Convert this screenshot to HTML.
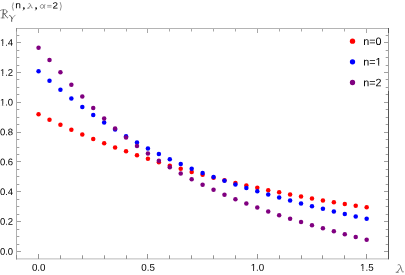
<!DOCTYPE html>
<html><head><meta charset="utf-8"><title>plot</title>
<style>html,body{margin:0;padding:0;background:#fff;}body{width:405px;height:275px;overflow:hidden;}svg{display:block;will-change:transform;opacity:0.999;}text{font-family:"Liberation Sans",sans-serif;text-rendering:geometricPrecision;}</style></head><body>
<svg width="405" height="275" viewBox="0 0 405 275">
<rect width="405" height="275" fill="#fff"/>
<g fill="none" stroke-width="1">
<path stroke="#b0b0b0" d="M16.5 28V259.5"/>
<path stroke="#555" d="M388.5 28V33M388.5 91V259.4"/><path stroke="#a0a0a0" d="M388.5 33V91"/>
<path stroke="#b4b4b4" d="M16 28.5H388"/>
<path stroke="#d4d4d4" d="M16 258.5H388"/><path stroke="#e4e4e4" d="M16 259.5H388"/>
<path stroke="#949494" d="M38.5 259V254M60.5 259V255.3M82.5 259V255.3M104.5 259V255.3M126.5 259V255.3M147.5 259V254M169.5 259V255.3M191.5 259V255.3M213.5 259V255.3M235.5 259V255.3M257.5 259V254M279.5 259V255.3M301.5 259V255.3M322.5 259V255.3M344.5 259V255.3M366.5 259V254"/>
<path stroke="#a8a8a8" d="M38.5 29V33M60.5 29V31.5M82.5 29V31.5M104.5 29V31.5M126.5 29V31.5M147.5 29V33M169.5 29V31.5M191.5 29V31.5M213.5 29V31.5M235.5 29V31.5M257.5 29V33M279.5 29V31.5M301.5 29V31.5M322.5 29V31.5M344.5 29V31.5M366.5 29V33"/>
<path stroke="#a0a0a0" d="M17 251.5H21M388 251.5H384M17 244.5H19.3M388 244.5H385.7M17 236.5H19.3M388 236.5H385.7M17 229.5H19.3M388 229.5H385.7M17 221.5H21M388 221.5H384M17 214.5H19.3M388 214.5H385.7M17 206.5H19.3M388 206.5H385.7M17 199.5H19.3M388 199.5H385.7M17 191.5H21M388 191.5H384M17 184.5H19.3M388 184.5H385.7M17 176.5H19.3M388 176.5H385.7M17 169.5H19.3M388 169.5H385.7M17 161.5H21M388 161.5H384M17 154.5H19.3M388 154.5H385.7M17 147.5H19.3M388 147.5H385.7M17 139.5H19.3M388 139.5H385.7M17 132.5H21M388 132.5H384M17 124.5H19.3M388 124.5H385.7M17 117.5H19.3M388 117.5H385.7M17 109.5H19.3M388 109.5H385.7M17 102.5H21M388 102.5H384M17 94.5H19.3M388 94.5H385.7M17 87.5H19.3M388 87.5H385.7M17 79.5H19.3M388 79.5H385.7M17 72.5H21M388 72.5H384M17 65.5H19.3M388 65.5H385.7M17 57.5H19.3M388 57.5H385.7M17 50.5H19.3M388 50.5H385.7M17 42.5H21M388 42.5H384M17 35.5H19.3M388 35.5H385.7"/>
<path stroke="#8c8c8c" d="M16.5 255V259.5M16.5 28V31.5"/>
</g>
<g font-size="9.5" fill="#000">
<text x="38.70" y="270.7" font-size="9.8" text-anchor="middle" transform="rotate(0.05 38.70 270.7)">0.0</text>
<text x="148.07" y="270.7" font-size="9.8" text-anchor="middle" transform="rotate(0.05 148.07 270.7)">0.5</text>
<text x="257.44" y="270.7" font-size="9.8" text-anchor="middle" transform="rotate(0.05 257.44 270.7)">1.0</text>
<rect x="250.77" y="269.12" width="2.22" height="1.98" fill="#fff"/><rect x="254.06" y="269.12" width="2.14" height="1.98" fill="#fff"/>
<text x="366.81" y="270.7" font-size="9.8" text-anchor="middle" transform="rotate(0.05 366.81 270.7)">1.5</text>
<rect x="360.14" y="269.12" width="2.22" height="1.98" fill="#fff"/><rect x="363.43" y="269.12" width="2.14" height="1.98" fill="#fff"/>
<text x="13.1" y="254.70" text-anchor="end" transform="rotate(0.05 13.1 254.70)">0.0</text>
<text x="13.1" y="224.86" text-anchor="end" transform="rotate(0.05 13.1 224.86)">0.2</text>
<text x="13.1" y="195.02" text-anchor="end" transform="rotate(0.05 13.1 195.02)">0.4</text>
<text x="13.1" y="165.18" text-anchor="end" transform="rotate(0.05 13.1 165.18)">0.6</text>
<text x="13.1" y="135.34" text-anchor="end" transform="rotate(0.05 13.1 135.34)">0.8</text>
<text x="13.1" y="105.50" text-anchor="end" transform="rotate(0.05 13.1 105.50)">1.0</text>
<rect x="0.02" y="103.94" width="2.17" height="1.96" fill="#fff"/><rect x="3.22" y="103.94" width="2.09" height="1.96" fill="#fff"/>
<text x="13.1" y="75.66" text-anchor="end" transform="rotate(0.05 13.1 75.66)">1.2</text>
<rect x="0.02" y="74.10" width="2.17" height="1.96" fill="#fff"/><rect x="3.22" y="74.10" width="2.09" height="1.96" fill="#fff"/>
<text x="13.1" y="45.82" text-anchor="end" transform="rotate(0.05 13.1 45.82)">1.4</text>
<rect x="0.02" y="44.26" width="2.17" height="1.96" fill="#fff"/><rect x="3.22" y="44.26" width="2.09" height="1.96" fill="#fff"/>
</g>
<g fill="#ff0000">
<circle cx="38.55" cy="114.33" r="2.25"/>
<circle cx="49.49" cy="119.69" r="2.25"/>
<circle cx="60.42" cy="124.81" r="2.25"/>
<circle cx="71.36" cy="129.73" r="2.25"/>
<circle cx="82.30" cy="134.44" r="2.25"/>
<circle cx="93.23" cy="138.95" r="2.25"/>
<circle cx="104.17" cy="143.27" r="2.25"/>
<circle cx="115.11" cy="147.41" r="2.25"/>
<circle cx="126.05" cy="151.37" r="2.25"/>
<circle cx="136.98" cy="155.17" r="2.25"/>
<circle cx="147.92" cy="158.81" r="2.25"/>
<circle cx="158.86" cy="162.30" r="2.25"/>
<circle cx="169.79" cy="165.64" r="2.25"/>
<circle cx="180.73" cy="168.84" r="2.25"/>
<circle cx="191.67" cy="171.91" r="2.25"/>
<circle cx="202.60" cy="174.85" r="2.25"/>
<circle cx="213.54" cy="177.67" r="2.25"/>
<circle cx="224.48" cy="180.37" r="2.25"/>
<circle cx="235.42" cy="182.97" r="2.25"/>
<circle cx="246.35" cy="185.46" r="2.25"/>
<circle cx="257.29" cy="187.85" r="2.25"/>
<circle cx="268.23" cy="190.15" r="2.25"/>
<circle cx="279.16" cy="192.36" r="2.25"/>
<circle cx="290.10" cy="194.48" r="2.25"/>
<circle cx="301.04" cy="196.53" r="2.25"/>
<circle cx="311.98" cy="198.49" r="2.25"/>
<circle cx="322.91" cy="200.39" r="2.25"/>
<circle cx="333.85" cy="202.21" r="2.25"/>
<circle cx="344.79" cy="203.97" r="2.25"/>
<circle cx="355.72" cy="205.67" r="2.25"/>
<circle cx="366.66" cy="207.31" r="2.25"/>
</g>
<g fill="#0000ff">
<circle cx="38.55" cy="71.29" r="2.25"/>
<circle cx="49.49" cy="80.73" r="2.25"/>
<circle cx="60.42" cy="89.85" r="2.25"/>
<circle cx="71.36" cy="98.60" r="2.25"/>
<circle cx="82.30" cy="106.97" r="2.25"/>
<circle cx="93.23" cy="114.93" r="2.25"/>
<circle cx="104.17" cy="122.47" r="2.25"/>
<circle cx="115.11" cy="129.59" r="2.25"/>
<circle cx="126.05" cy="136.30" r="2.25"/>
<circle cx="136.98" cy="142.60" r="2.25"/>
<circle cx="147.92" cy="148.51" r="2.25"/>
<circle cx="158.86" cy="154.05" r="2.25"/>
<circle cx="169.79" cy="159.25" r="2.25"/>
<circle cx="180.73" cy="164.11" r="2.25"/>
<circle cx="191.67" cy="168.68" r="2.25"/>
<circle cx="202.60" cy="172.97" r="2.25"/>
<circle cx="213.54" cy="177.01" r="2.25"/>
<circle cx="224.48" cy="180.84" r="2.25"/>
<circle cx="235.42" cy="184.47" r="2.25"/>
<circle cx="246.35" cy="187.94" r="2.25"/>
<circle cx="257.29" cy="191.26" r="2.25"/>
<circle cx="268.23" cy="194.45" r="2.25"/>
<circle cx="279.16" cy="197.53" r="2.25"/>
<circle cx="290.10" cy="200.50" r="2.25"/>
<circle cx="301.04" cy="203.38" r="2.25"/>
<circle cx="311.98" cy="206.17" r="2.25"/>
<circle cx="322.91" cy="208.87" r="2.25"/>
<circle cx="333.85" cy="211.49" r="2.25"/>
<circle cx="344.79" cy="214.03" r="2.25"/>
<circle cx="355.72" cy="216.47" r="2.25"/>
<circle cx="366.66" cy="218.81" r="2.25"/>
</g>
<g fill="#800080">
<circle cx="38.55" cy="47.83" r="2.25"/>
<circle cx="49.49" cy="59.96" r="2.25"/>
<circle cx="60.42" cy="72.34" r="2.25"/>
<circle cx="71.36" cy="84.64" r="2.25"/>
<circle cx="82.30" cy="96.57" r="2.25"/>
<circle cx="93.23" cy="107.94" r="2.25"/>
<circle cx="104.17" cy="118.60" r="2.25"/>
<circle cx="115.11" cy="128.47" r="2.25"/>
<circle cx="126.05" cy="137.56" r="2.25"/>
<circle cx="136.98" cy="145.91" r="2.25"/>
<circle cx="147.92" cy="153.60" r="2.25"/>
<circle cx="158.86" cy="160.73" r="2.25"/>
<circle cx="169.79" cy="167.34" r="2.25"/>
<circle cx="180.73" cy="173.52" r="2.25"/>
<circle cx="191.67" cy="179.30" r="2.25"/>
<circle cx="202.60" cy="184.72" r="2.25"/>
<circle cx="213.54" cy="189.83" r="2.25"/>
<circle cx="224.48" cy="194.64" r="2.25"/>
<circle cx="235.42" cy="199.19" r="2.25"/>
<circle cx="246.35" cy="203.49" r="2.25"/>
<circle cx="257.29" cy="207.57" r="2.25"/>
<circle cx="268.23" cy="211.44" r="2.25"/>
<circle cx="279.16" cy="215.14" r="2.25"/>
<circle cx="290.10" cy="218.66" r="2.25"/>
<circle cx="301.04" cy="222.03" r="2.25"/>
<circle cx="311.98" cy="225.26" r="2.25"/>
<circle cx="322.91" cy="228.36" r="2.25"/>
<circle cx="333.85" cy="231.35" r="2.25"/>
<circle cx="344.79" cy="234.22" r="2.25"/>
<circle cx="355.72" cy="236.99" r="2.25"/>
<circle cx="366.66" cy="239.66" r="2.25"/>
</g>
<circle cx="352.5" cy="41.2" r="2.65" fill="#ff0000"/>
<text x="363.2" y="45.00" font-size="10.8" fill="#000" transform="rotate(0.05 363.2 45.00)">n=0</text>
<circle cx="352.5" cy="61.8" r="2.65" fill="#0000ff"/>
<text x="363.2" y="65.60" font-size="10.8" fill="#000" transform="rotate(0.05 363.2 65.60)">n=1</text>
<rect x="375.74" y="63.94" width="2.39" height="2.06" fill="#fff"/><rect x="379.28" y="63.94" width="2.31" height="2.06" fill="#fff"/>
<circle cx="352.5" cy="82.5" r="2.65" fill="#800080"/>
<text x="363.2" y="86.30" font-size="10.8" fill="#000" transform="rotate(0.05 363.2 86.30)">n=2</text>
<g aria-label="lambda">
<path d="M0.26 0.07C0.4 0 0.5 0.04 0.56 0.2L0.8 0.86C0.84 0.97 0.92 0.98 0.99 0.92M0.6 0.4L0.15 0.96M0 0.97H0.3" transform="translate(396.1 264.2) scale(7.5 8.3)" fill="none" stroke="#666" stroke-width="0.85" vector-effect="non-scaling-stroke" stroke-linecap="round" stroke-linejoin="round"/>
</g>
<g aria-label="title">
<g fill="none" stroke="#555" stroke-linecap="round" stroke-linejoin="round">
<path stroke-width="0.65" d="M0.3 10.6C1.2 9.9 2.2 9.7 3.3 9.7H4.6C6.1 9.7 7 10.4 7.05 11.5"/>
<path stroke-width="0.85" d="M7.05 11.5C7.05 12.9 6 13.7 4.5 13.7H3.2"/>
<path stroke-width="1.05" d="M3.35 9.9L2.85 17.7"/>
<path stroke-width="0.6" d="M1.1 17.95H4.3"/>
<path stroke-width="0.95" d="M4.2 13.8L7 17.5C7.2 17.8 7.5 17.9 7.8 17.7"/>
<path stroke-width="0.95" d="M9.2 15.7C9.6 15.2 10.2 15.3 10.5 15.9L12.05 18.4"/>
<path stroke-width="0.6" d="M15.15 15.2L12.05 18.4"/>
<path stroke-width="1.0" d="M12.05 18.4C11.6 19.4 11.55 20.4 11.65 21.4"/>
</g>
<g font-size="8.4" fill="#666">
<path d="M13.2 2.9Q11.3 6.6 13.2 10.3M60.4 2.5Q62.4 6.3 60.4 10.2" fill="none" stroke="#6a6a6a" stroke-width="0.7" stroke-linecap="round"/>
<text transform="translate(15.3 8.3) rotate(0.05) scale(1.08 1)" fill="#000" font-size="9.5">n</text>
<text transform="translate(22.4 8.75) rotate(0.05) scale(1 1)" fill="#000" font-weight="bold" font-size="10.6" style="font-family:'Liberation Serif',serif">,</text>
<path d="M0.26 0.07C0.4 0 0.5 0.04 0.56 0.2L0.8 0.86C0.84 0.97 0.92 0.98 0.99 0.92M0.6 0.4L0.15 0.96M0 0.97H0.3" transform="translate(27.6 3.3) scale(4.9 5.0)" fill="none" stroke="#666" stroke-width="0.7" vector-effect="non-scaling-stroke" stroke-linecap="round" stroke-linejoin="round"/>
<text transform="translate(34.8 8.75) rotate(0.05) scale(1 1)" fill="#000" font-weight="bold" font-size="10.6" style="font-family:'Liberation Serif',serif">,</text>
<path d="M0.98 0.04C0.88 0.5 0.68 0.98 0.36 0.98C0.1 0.98 0.02 0.75 0.04 0.5C0.07 0.22 0.22 0.03 0.46 0.03C0.74 0.03 0.78 0.6 0.9 0.97" transform="translate(40.1 4.4) scale(4.9 4.0)" fill="none" stroke="#666" stroke-width="0.7" vector-effect="non-scaling-stroke" stroke-linecap="round" stroke-linejoin="round"/>
<path d="M47.2 5.45H51.6M47.2 7.05H51.6" fill="none" stroke="#6a6a6a" stroke-width="0.6"/>
<text transform="translate(52.4 8.4) rotate(0.05) scale(1.12 1)" fill="#000" font-size="8.9">2</text>
</g>
</g>
</svg></body></html>
